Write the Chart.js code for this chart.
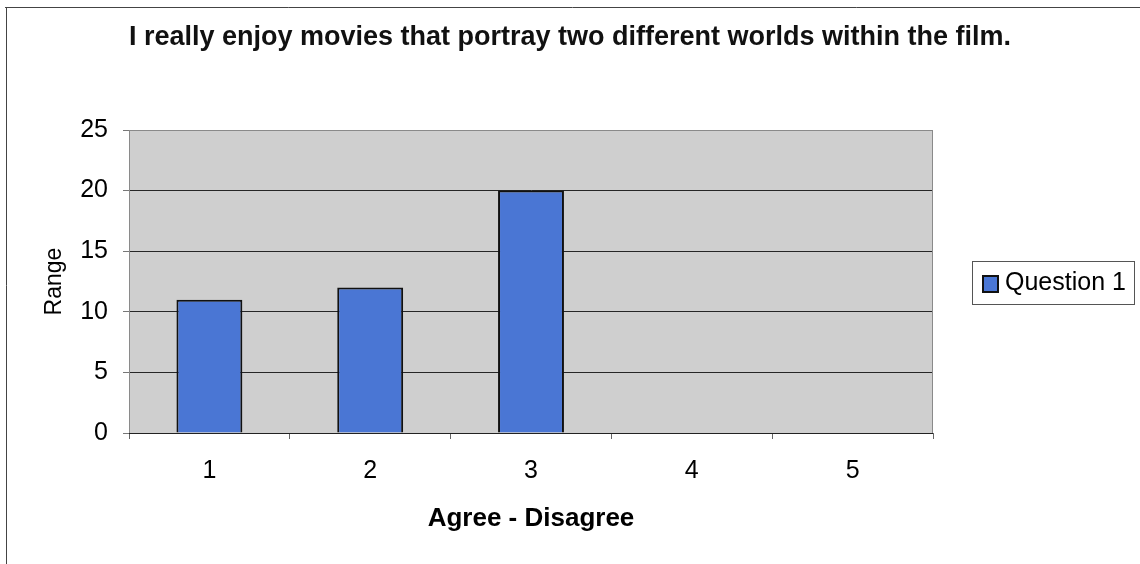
<!DOCTYPE html>
<html lang="en">
<head>
    <meta charset="UTF-8">
    <title>Question 1</title>
    <script src="https://cdn.jsdelivr.net/npm/chart.js"></script>
    <style>
        body { margin: 0; background: #fff; }
        #wrap { width: 1140px; height: 564px; }
    </style>
</head>
<body>
    <div id="wrap"><canvas id="myChart" width="1140" height="564"></canvas></div>
    <script>
        // Donnees
        const categories = ['1', '2', '3', '4', '5'];
        const question1 = [11, 12, 20, 0, 0];
        const yTicks = [0, 5, 10, 15, 20, 25];

        const FONT = 'Arial, "Liberation Sans", sans-serif';
        const BLUE = '#4a76d4';

        // fond gris, cadre du graphique et legende encadree
        const decor = {
            id: 'decor',
            beforeDraw(chart) {
                const { ctx, chartArea: a } = chart;
                ctx.save();
                ctx.fillStyle = '#fff';
                ctx.fillRect(0, 0, chart.width, chart.height);
                ctx.fillStyle = '#cfcfcf';
                ctx.fillRect(a.left, a.top, a.right - a.left, a.bottom - a.top);
                // cadre exterieur
                ctx.strokeStyle = '#444';
                ctx.lineWidth = 1;
                ctx.beginPath();
                ctx.moveTo(5, 7.5);
                ctx.lineTo(chart.width, 7.5);
                ctx.moveTo(6.5, 7);
                ctx.lineTo(6.5, chart.height);
                ctx.stroke();
                ctx.restore();
            },
            afterDatasetsDraw(chart) {
                const { ctx, chartArea: a } = chart;
                ctx.save();
                ctx.strokeStyle = '#8a8a8a';
                ctx.lineWidth = 1;
                ctx.strokeRect(a.left + 0.5, a.top + 0.5, a.right - a.left - 1, a.bottom - a.top);
                ctx.strokeStyle = '#222';
                ctx.beginPath();
                ctx.moveTo(a.left, a.bottom + 0.5);
                ctx.lineTo(a.right, a.bottom + 0.5);
                ctx.stroke();

                // legende
                const ds = chart.data.datasets[0];
                const lx = a.right + 39, ly = 261, lw = 162, lh = 43;
                ctx.fillStyle = '#fff';
                ctx.fillRect(lx, ly, lw, lh);
                ctx.strokeStyle = '#555';
                ctx.strokeRect(lx + 0.5, ly + 0.5, lw, lh);
                ctx.fillStyle = ds.backgroundColor;
                ctx.fillRect(lx + 11, ly + 15, 15, 16);
                ctx.strokeStyle = '#111';
                ctx.lineWidth = 2;
                ctx.strokeRect(lx + 11, ly + 15, 15, 16);
                ctx.fillStyle = '#000';
                ctx.font = '25px ' + FONT;
                ctx.textBaseline = 'middle';
                ctx.textAlign = 'left';
                ctx.fillText(ds.label, lx + 33, ly + 22);
                ctx.restore();
            }
        };

        const ctx = document.getElementById('myChart').getContext('2d');
        Chart.defaults.color = '#000';
        Chart.defaults.font.family = FONT;

        new Chart(ctx, {
            type: 'bar',
            data: {
                labels: categories,
                datasets: [{
                    label: 'Question 1',
                    data: question1,
                    backgroundColor: BLUE,
                    borderColor: '#111',
                    borderWidth: 2,
                    borderSkipped: 'bottom',
                    categoryPercentage: 1,
                    barPercentage: 0.41
                }]
            },
            plugins: [decor],
            options: {
                responsive: false,
                animation: false,
                layout: { padding: 0 },
                plugins: {
                    legend: { display: false },
                    tooltip: { enabled: false },
                    title: {
                        display: true,
                        text: 'I really enjoy movies that portray two different worlds within the film.',
                        color: '#111',
                        font: { size: 27, weight: 'bold' },
                        padding: { top: 21, bottom: 76.6 }
                    }
                },
                scales: {
                    x: {
                        afterFit(scale) { scale.height = 131; },
                        grid: {
                            drawOnChartArea: false,
                            drawTicks: true,
                            tickLength: 6,
                            color: '#666',
                            offset: true
                        },
                        border: { display: false },
                        ticks: { font: { size: 25 }, padding: 17, maxRotation: 0 },
                        title: {
                            display: true,
                            text: 'Agree - Disagree',
                            font: { size: 26, weight: 'bold' },
                            padding: { top: 0, bottom: 30 }
                        }
                    },
                    y: {
                        min: 0,
                        max: 25,
                        afterFit(scale) { scale.width = 129; },
                        afterBuildTicks(scale) { scale.ticks = yTicks.map(v => ({ value: v })); },
                        grid: {
                            color: '#262626',
                            lineWidth: 1,
                            drawTicks: true,
                            tickLength: 6,
                            tickColor: '#777'
                        },
                        border: { display: true, color: '#8a8a8a' },
                        ticks: { font: { size: 25 }, padding: 15 },
                        title: {
                            display: true,
                            text: 'Range',
                            font: { size: 23 },
                            padding: { top: 41, bottom: 0 }
                        }
                    },
                    // espace vide a droite pour la legende
                    side: {
                        type: 'linear',
                        position: 'right',
                        afterFit(scale) { scale.width = 207; },
                        grid: { display: false },
                        border: { display: false },
                        ticks: { display: false }
                    }
                }
            }
        });
    </script>
</body>
</html>
